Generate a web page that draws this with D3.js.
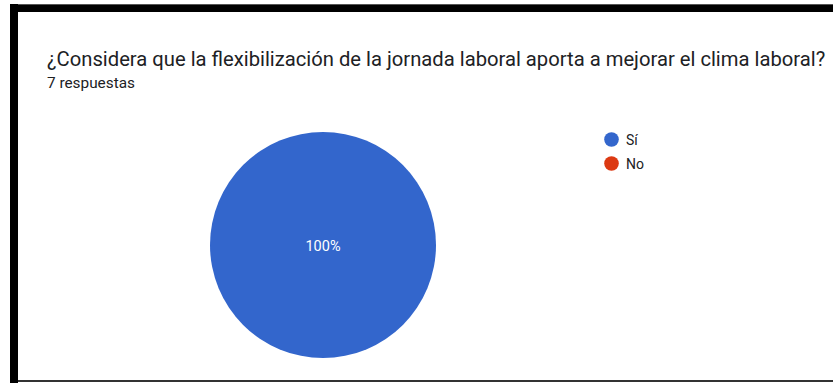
<!DOCTYPE html>
<html>
<head>
<meta charset="utf-8">
<script src="https://cdn.jsdelivr.net/npm/d3@7"></script>
<style>
  html, body { margin: 0; padding: 0; background: #fff; }
  svg { display: block; }
</style>
</head>
<body>
<svg id="chart" width="833" height="383"></svg>
<script>
// Survey answers
const categories = ["Sí", "No"];
const counts = [7, 0];
const colors = ["#3366cc", "#dc3912"];
const title = "¿Considera que la flexibilización de la jornada laboral aporta a mejorar el clima laboral?";
const subtitle = "7 respuestas";

const svg = d3.select("#chart");
const W = 833, H = 383;

// Frame around the card
svg.append("rect").attr("x", 10).attr("y", 4).attr("width", W - 10).attr("height", 8).attr("fill", "#000");
svg.append("rect").attr("x", 10).attr("y", 4).attr("width", W - 10).attr("height", 1).attr("fill", "#555");
svg.append("rect").attr("x", 10).attr("y", 4).attr("width", 8).attr("height", H - 4).attr("fill", "#000");
svg.append("rect").attr("x", 18).attr("y", 380).attr("width", W - 18).attr("height", 2).attr("fill", "#333");

// Sets a text's font size so that it spans the given width
function fitWidth(sel, width) {
  const base = +sel.attr("font-size");
  const len = sel.node().getComputedTextLength();
  sel.attr("font-size", (base * width / len).toFixed(2));
}

// Heading
const titleText = svg.append("text")
  .attr("x", 47).attr("y", 66)
  .attr("font-family", "Roboto, sans-serif")
  .attr("font-size", 18)
  .attr("fill", "#202124")
  .text(title);
fitWidth(titleText, 779);

const subText = svg.append("text")
  .attr("x", 47).attr("y", 88)
  .attr("font-family", "Roboto, sans-serif")
  .attr("font-size", 13)
  .attr("fill", "#202124")
  .text(subtitle);
fitWidth(subText, 88);

// Pie
const cx = 323, cy = 245, r = 113;
const total = d3.sum(counts);
const data = categories.map((c, i) => ({ cat: c, value: counts[i], color: colors[i] }));
const pie = d3.pie().value(d => d.value).sort(null);
const arc = d3.arc().innerRadius(0).outerRadius(r);
const g = svg.append("g").attr("transform", `translate(${cx},${cy})`);
const arcs = pie(data).filter(d => d.data.value > 0);

g.selectAll("path")
  .data(arcs)
  .join("path")
  .attr("d", arc)
  .attr("fill", d => d.data.color);

const fmt = d3.format(".0%");
const labelArc = d3.arc().innerRadius(r * 0.6).outerRadius(r * 0.6);
g.selectAll("text.pct")
  .data(arcs)
  .join("text")
  .attr("class", "pct")
  .attr("transform", d => {
    const full = d.endAngle - d.startAngle >= 2 * Math.PI - 1e-6;
    return full ? "translate(0,0)" : `translate(${labelArc.centroid(d)})`;
  })
  .attr("text-anchor", "middle")
  .attr("dy", "0.4em")
  .attr("font-family", "Roboto, sans-serif")
  .attr("font-size", 14.5)
  .attr("fill", "#fff")
  .text(d => fmt(d.data.value / total));

// Legend
const legend = svg.append("g").attr("transform", "translate(611.5,139.5)");
const items = legend.selectAll("g")
  .data(data)
  .join("g")
  .attr("transform", (d, i) => `translate(0,${i * 24})`);
items.append("circle").attr("r", 7.3).attr("fill", d => d.color);
items.append("text")
  .attr("x", 14.5).attr("dy", "0.36em")
  .attr("font-family", "Roboto, sans-serif")
  .attr("font-size", 14)
  .attr("fill", "#202124")
  .text(d => d.cat);
</script>
</body>
</html>
